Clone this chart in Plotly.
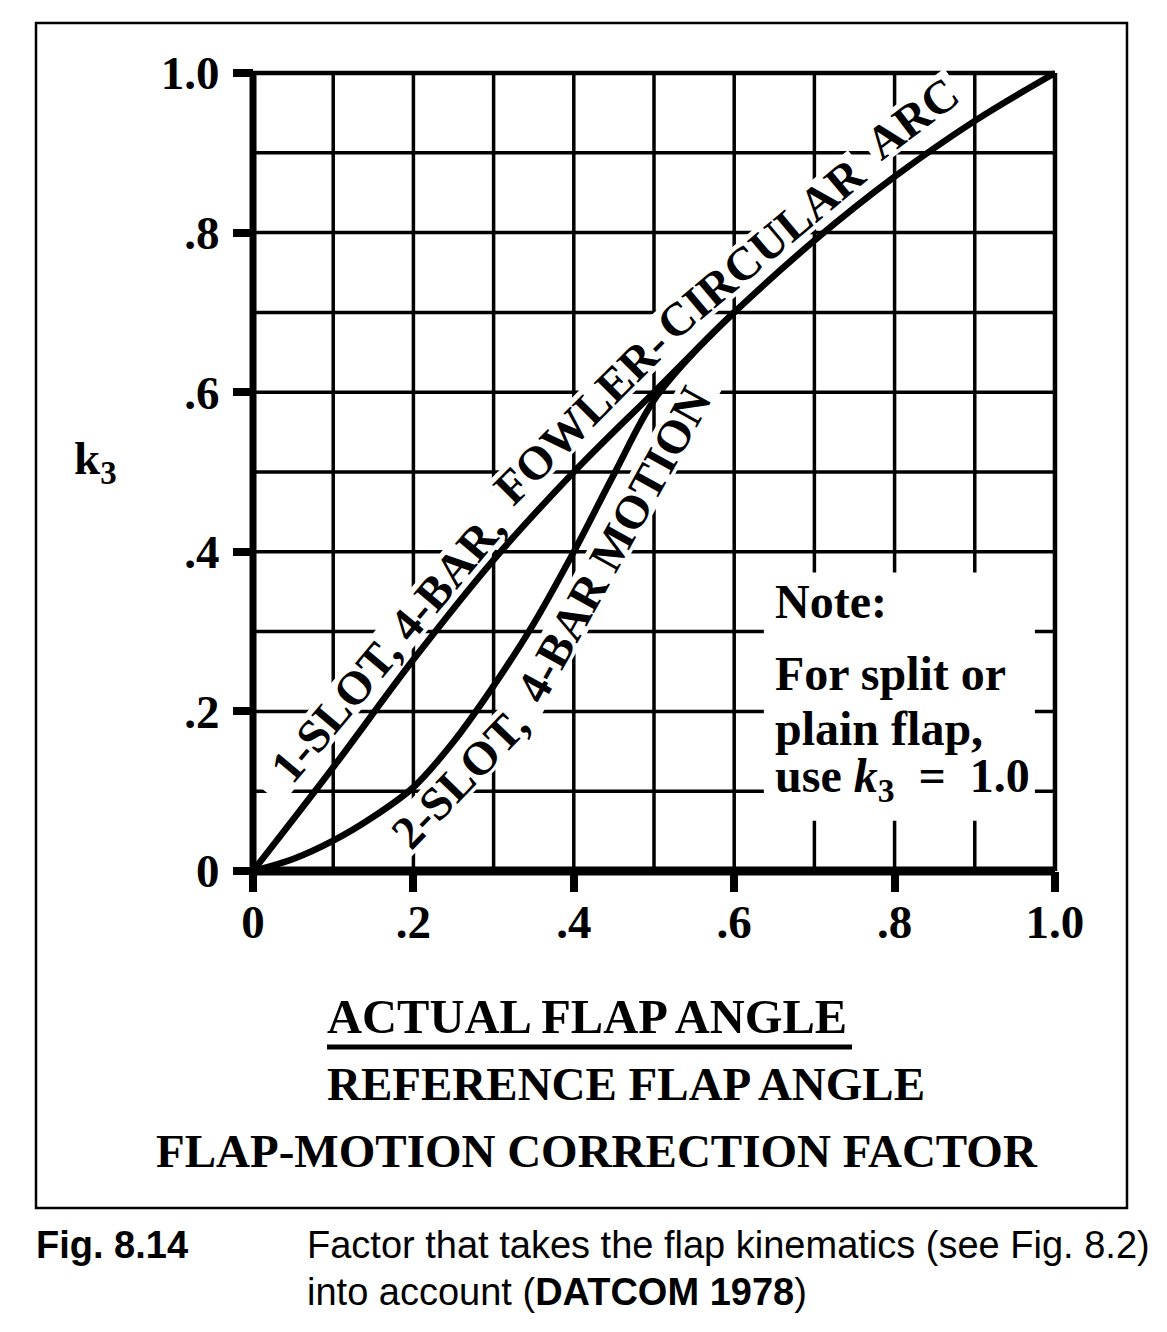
import math
import plotly.graph_objects as go

# ---------------- data ----------------
tick_vals = [0, 0.2, 0.4, 0.6, 0.8, 1.0]
x_tick_text = ["0", ".2", ".4", ".6", ".8", "1.0"]
y_tick_text = ["0", ".2", ".4", ".6", ".8", "1.0"]
grid_vals = [0, 0.1, 0.2, 0.3, 0.4, 0.5, 0.6, 0.7, 0.8, 0.9, 1.0]

one_slot_x = [0, 0.1, 0.2, 0.3, 0.4, 0.5, 0.6, 0.7, 0.8, 0.9, 1.0]
one_slot_y = [0, 0.13, 0.265, 0.39, 0.5, 0.6, 0.7, 0.79, 0.87, 0.94, 1.0]

two_slot_x = [0, 0.05, 0.1, 0.15, 0.2, 0.25, 0.3, 0.35, 0.4, 0.45, 0.5, 0.55, 0.6]
two_slot_y = [0, 0.015, 0.038, 0.068, 0.105, 0.162, 0.232, 0.31, 0.4, 0.497, 0.59, 0.65, 0.7]

# ---------------- layout constants ----------------
OFF = 8                      # default page body margin
W, H = 1167 - OFF, 1332 - OFF
ML, MR, MT, MB = 237, 104, 57, 453
PAD = 0.01
plot_w = W - ML - MR
plot_h = H - MT - MB
SX = plot_w / (1 + 2 * PAD)
SY = plot_h / (1 + 2 * PAD)
SERIF = "Liberation Serif"
SANS = "Liberation Sans"
FS = 47


def paper_x(px):
    return (px - OFF - ML) / plot_w


def paper_y(py):
    return (H - MB - (py - OFF)) / plot_h


def knockout(cx, cy, ang, length_px, height_px):
    a = math.radians(ang)
    ux, uy = math.cos(a), math.sin(a)
    vx, vy = -uy, ux
    hl, hh = length_px / 2, height_px / 2
    pts = []
    for s, t in [(-1, -1), (1, -1), (1, 1), (-1, 1)]:
        dx = s * hl * ux + t * hh * vx
        dy = s * hl * uy + t * hh * vy
        pts.append((cx + dx / SX, cy + dy / SY))
    return "M " + " L ".join(f"{x:.5f},{y:.5f}" for x, y in pts) + " Z"


fig = go.Figure()

fig.add_trace(go.Scatter(x=one_slot_x, y=one_slot_y, mode="lines",
                         line=dict(color="black", width=6.5, shape="spline", smoothing=1.0),
                         hoverinfo="skip", showlegend=False))
fig.add_trace(go.Scatter(x=two_slot_x, y=two_slot_y, mode="lines",
                         line=dict(color="black", width=6.5, shape="spline", smoothing=1.0),
                         hoverinfo="skip", showlegend=False))

shapes = []
# grid
for v in grid_vals:
    w = 4.5 if v == 1.0 else 3.5
    shapes.append(dict(type="line", xref="x", yref="y", x0=v, x1=v, y0=0, y1=1,
                       line=dict(color="black", width=w), layer="below"))
    shapes.append(dict(type="line", xref="x", yref="y", x0=0, x1=1, y0=v, y1=v,
                       line=dict(color="black", width=w), layer="below"))
# note box knockout
shapes.append(dict(type="rect", xref="x", yref="y", x0=0.637, x1=0.975, y0=0.063, y1=0.374,
                   fillcolor="white", line=dict(width=0), layer="below"))

# curve labels
labels = [
    ("1-SLOT, 4-BAR,", 0.168, 0.281, -50, 371),
    ("FOWLER-", 0.41, 0.57, -45, 225),
    ("CIRCULAR", 0.633, 0.779, -40, 253),
    ("ARC", 0.822, 0.944, -37, 102),
    ("2-SLOT,", 0.258, 0.117, -46, 176),
    ("4-BAR MOTION", 0.449, 0.409, -61, 398),
]
for txt, cx, cy, ang, ln in labels:
    shapes.append(dict(type="path", xref="x", yref="y", path=knockout(cx, cy, -ang, ln + 8, 40),
                       fillcolor="white", line=dict(width=0), layer="below"))

# axis lines
shapes.append(dict(type="line", xref="x", yref="y", x0=0, x1=0, y0=0, y1=1,
                   line=dict(color="black", width=7), layer="below"))
shapes.append(dict(type="line", xref="x", yref="y", x0=0, x1=1, y0=0, y1=0,
                   line=dict(color="black", width=9), layer="below"))

# underline of fraction
shapes.append(dict(type="line", xref="paper", yref="paper",
                   x0=paper_x(327), x1=paper_x(852), y0=paper_y(1047), y1=paper_y(1047),
                   line=dict(color="black", width=5)))
# outer frame
shapes.append(dict(type="rect", xref="paper", yref="paper",
                   x0=paper_x(36), x1=paper_x(1127), y0=paper_y(23), y1=paper_y(1208),
                   line=dict(color="black", width=2.5), fillcolor="rgba(0,0,0,0)"))

ann = []
for txt, cx, cy, ang, ln in labels:
    ann.append(dict(text=txt, x=cx, y=cy, xref="x", yref="y", showarrow=False,
                    textangle=ang, font=dict(family=SERIF, size=FS, color="black", weight="bold")))

note_lines = [("Note:", 0.338), ("For split or", 0.247), ("plain flap,", 0.178),
              ("use <i>k</i><sub>3</sub>  =  1.0", 0.115)]
for txt, yy in note_lines:
    ann.append(dict(text=txt, x=0.648, y=yy, xref="x", yref="y", xanchor="left",
                    yanchor="middle", showarrow=False,
                    font=dict(family=SERIF, size=48, color="black", weight="bold")))

# y-axis label
ann.append(dict(text="k<sub>3</sub>", x=paper_x(95), y=paper_y(462), xref="paper", yref="paper",
                showarrow=False, xanchor="center", yanchor="middle",
                font=dict(family=SERIF, size=FS, color="black", weight="bold")))

# x-axis title
ann.append(dict(text="ACTUAL FLAP ANGLE", x=paper_x(325), y=paper_y(1016), xref="paper", yref="paper",
                showarrow=False, xanchor="left", yanchor="middle",
                font=dict(family=SERIF, size=48.5, color="black", weight="bold")))
ann.append(dict(text="REFERENCE FLAP ANGLE", x=paper_x(325), y=paper_y(1084), xref="paper", yref="paper",
                showarrow=False, xanchor="left", yanchor="middle",
                font=dict(family=SERIF, size=FS, color="black", weight="bold")))
ann.append(dict(text="FLAP-MOTION CORRECTION FACTOR", x=paper_x(597), y=paper_y(1151), xref="paper",
                yref="paper", showarrow=False, xanchor="center", yanchor="middle",
                font=dict(family=SERIF, size=FS, color="black", weight="bold")))

# caption
ann.append(dict(text="<b>Fig. 8.14</b>", x=paper_x(34), y=paper_y(1245), xref="paper", yref="paper",
                showarrow=False, xanchor="left", yanchor="middle",
                font=dict(family=SANS, size=38, color="black")))
ann.append(dict(text="Factor that takes the flap kinematics (see Fig. 8.2)", x=paper_x(305),
                y=paper_y(1245), xref="paper", yref="paper", showarrow=False, xanchor="left",
                yanchor="middle", font=dict(family=SANS, size=38, color="black")))
ann.append(dict(text="into account (<b>DATCOM 1978</b>)", x=paper_x(305),
                y=paper_y(1292), xref="paper", yref="paper", showarrow=False, xanchor="left",
                yanchor="middle", font=dict(family=SANS, size=38, color="black")))

axis_pos = PAD / (1 + 2 * PAD)
common_axis = dict(showgrid=False, zeroline=False, showline=False, anchor="free",
                   position=axis_pos, tickmode="array", tickvals=tick_vals,
                   ticks="outside", ticklen=20, tickwidth=8, tickcolor="black",
                   tickfont=dict(family=SERIF, size=FS, color="black", weight="bold"),
                   fixedrange=True)

fig.update_layout(
    width=W, height=H,
    margin=dict(l=ML, r=MR, t=MT, b=MB, autoexpand=False),
    paper_bgcolor="white", plot_bgcolor="white",
    xaxis=dict(range=[-PAD, 1 + PAD], ticktext=x_tick_text, ticklabelstandoff=-10, **common_axis),
    yaxis=dict(range=[-PAD, 1 + PAD], ticktext=y_tick_text, ticklabelstandoff=4, **common_axis),
    shapes=shapes, annotations=ann, showlegend=False,
)

fig.write_html("out.html")
